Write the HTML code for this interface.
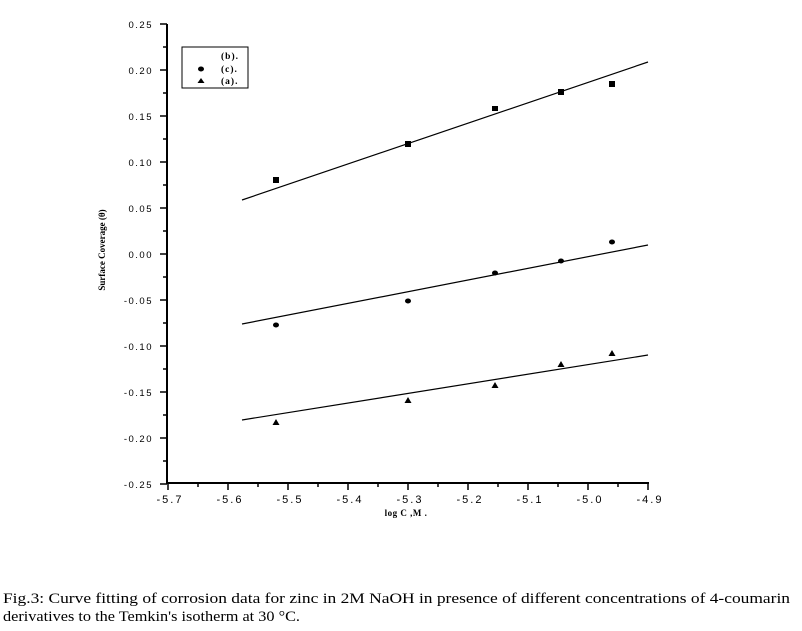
<!DOCTYPE html>
<html><head><meta charset="utf-8"><style>body{margin:0;background:#fff}svg{display:block}</style></head><body>
<svg width="802" height="631" xmlns="http://www.w3.org/2000/svg">
<g stroke="#000" stroke-width="2" fill="none">
<path d="M167 24V483H649"/>
</g>
<g stroke="#000" stroke-width="1.5">
<path d="M160 24H167M160 70H167M160 116H167M160 162H167M160 208H167M160 254H167M160 300H167M160 346H167M160 392H167M160 438H167M160 484H167"/>
<path d="M163 47H167M163 93H167M163 139H167M163 185H167M163 231H167M163 277H167M163 323H167M163 369H167M163 415H167M163 461H167"/>
<path d="M168 483V490M228 483V490M288 483V490M348 483V490M408 483V490M468 483V490M528 483V490M588 483V490M648 483V490"/>
<path d="M198 483V487M258 483V487M318 483V487M378 483V487M438 483V487M498 483V487M558 483V487M618 483V487"/>
</g>
<g font-family="Liberation Sans, sans-serif" font-size="9.5" letter-spacing="1.5" text-anchor="end">
<text x="153" y="28">0.25</text><text x="153" y="74">0.20</text><text x="153" y="120">0.15</text>
<text x="153" y="166">0.10</text><text x="153" y="212">0.05</text><text x="153" y="258">0.00</text>
<text x="153" y="304">-0.05</text><text x="153" y="350">-0.10</text><text x="153" y="396">-0.15</text>
<text x="153" y="442">-0.20</text><text x="153" y="488">-0.25</text>
</g>
<g font-family="Liberation Sans, sans-serif" font-size="11" letter-spacing="2" text-anchor="middle">
<text x="170" y="503">-5.7</text><text x="230" y="503">-5.6</text><text x="290" y="503">-5.5</text>
<text x="350" y="503">-5.4</text><text x="410" y="503">-5.3</text><text x="470" y="503">-5.2</text>
<text x="530" y="503">-5.1</text><text x="590" y="503">-5.0</text><text x="650" y="503">-4.9</text>
</g>
<text x="406" y="516" font-family="Liberation Serif, serif" font-size="9" font-weight="bold" text-anchor="middle" letter-spacing="0.5">log C  ,M .</text>
<text transform="translate(105,250) rotate(-90)" font-family="Liberation Serif, serif" font-size="9" font-weight="bold" text-anchor="middle">Surface Coverage (θ)</text>
<rect x="182" y="47" width="66" height="41" fill="none" stroke="#000" stroke-width="1"/>
<g font-family="Liberation Serif, serif" font-size="9.5" font-weight="bold" letter-spacing="1">
<text x="221" y="59">(b).</text><text x="221" y="72">(c).</text><text x="221" y="84">(a).</text>
</g>
<ellipse cx="201" cy="69" rx="3" ry="2.5"/>
<path d="M197.5 83L201 78L204.5 83Z"/>
<g stroke="#000" stroke-width="1.2">
<line x1="242" y1="200" x2="648" y2="62"/>
<line x1="242" y1="324" x2="648" y2="245"/>
<line x1="242" y1="420" x2="648" y2="355"/>
</g>
<g>
<rect x="273" y="177" width="6" height="6"/><rect x="405" y="141" width="6" height="6"/>
<rect x="492" y="106" width="6" height="5"/><rect x="558" y="89" width="6" height="6"/>
<rect x="609" y="81" width="6" height="6"/>
<ellipse cx="276" cy="325" rx="3" ry="2.5"/><ellipse cx="408" cy="301" rx="3" ry="2.5"/>
<ellipse cx="495" cy="273" rx="3" ry="2.5"/><ellipse cx="561" cy="261" rx="3" ry="2.5"/>
<ellipse cx="612" cy="242" rx="3" ry="2.5"/>
<path d="M272.5 425L276 419L279.5 425Z"/><path d="M404.5 403L408 397L411.5 403Z"/>
<path d="M491.5 388L495 382L498.5 388Z"/><path d="M557.5 367L561 361L564.5 367Z"/>
<path d="M608.5 356L612 350L615.5 356Z"/>
</g>
<g font-family="Liberation Serif, serif" font-size="15">
<text x="3" y="603" textLength="787" lengthAdjust="spacingAndGlyphs">Fig.3: Curve fitting of corrosion data for zinc in 2M NaOH in presence of different concentrations of 4-coumarin</text>
<text x="3" y="621" textLength="297" lengthAdjust="spacingAndGlyphs">derivatives to the Temkin's isotherm at 30 °C.</text>
</g>
</svg>
</body></html>
